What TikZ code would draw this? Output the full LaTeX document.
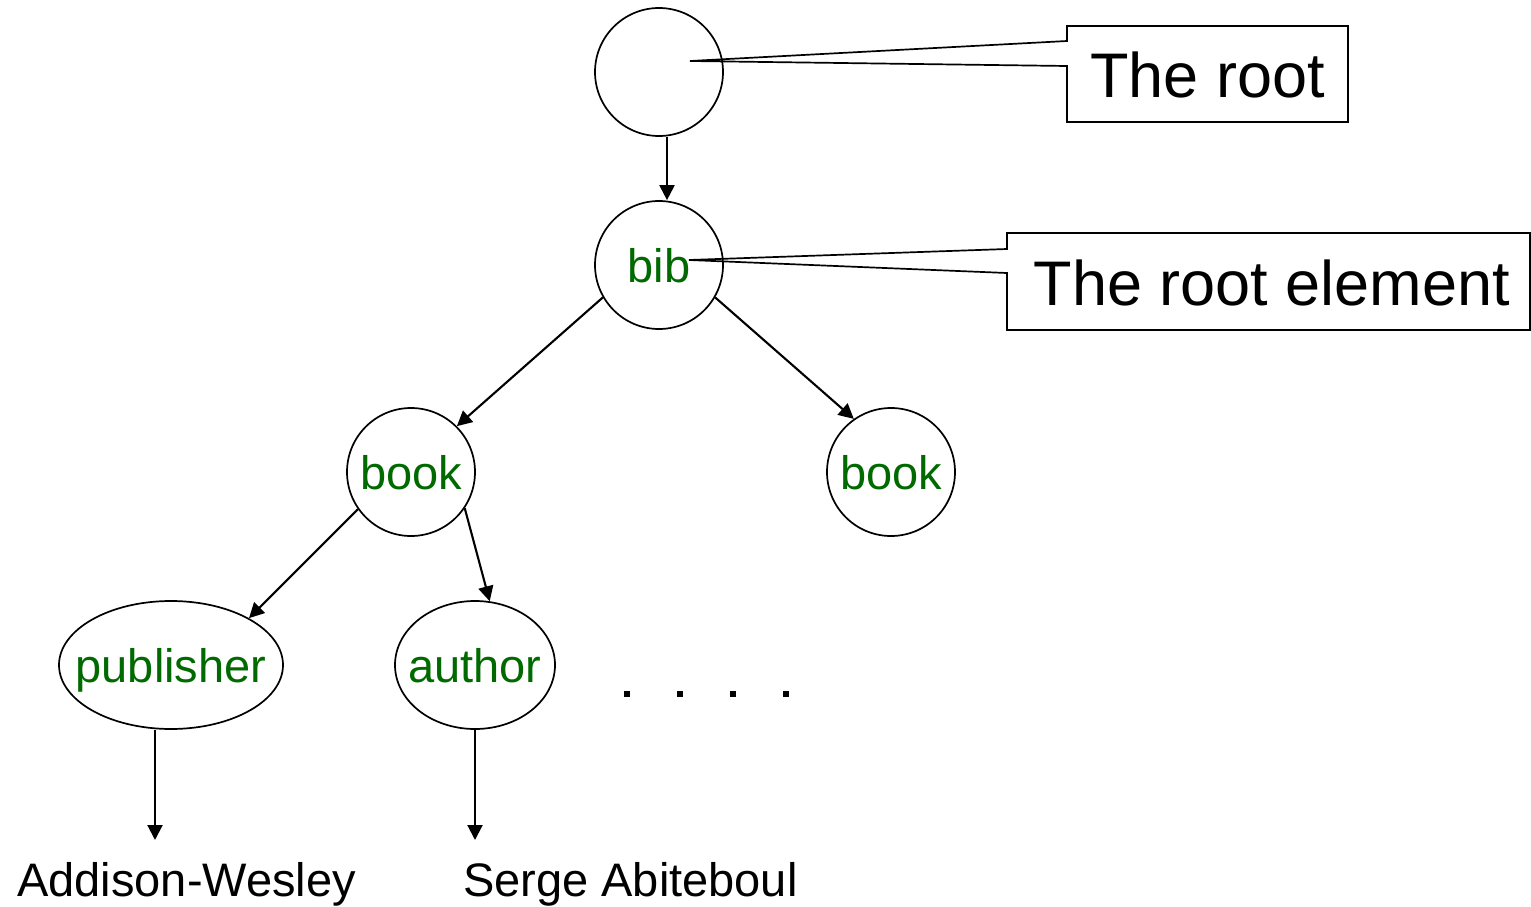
\documentclass[tikz,border=0pt]{standalone}
\usepackage{fontspec}
\setmainfont{Liberation Sans}
\usetikzlibrary{arrows.meta,shapes.geometric}
\definecolor{tagGreen}{RGB}{0,106,0}
\begin{document}
\begin{tikzpicture}[x=1pt,y=-1pt,
  elem/.style={circle,draw,line width=1.7pt,minimum size=128pt,inner sep=0pt,
    text=tagGreen,font=\fontsize{47pt}{56pt}\selectfont,text depth=0pt},
  arr/.style={-{Triangle[length=15pt,width=15pt]},line width=2.1pt},
  leaf/.style={font=\fontsize{47pt}{56pt}\selectfont,inner sep=0pt},
  note/.style={font=\fontsize{63pt}{72pt}\selectfont,inner sep=0pt,anchor=base},
  callout/.style={draw,line width=1.7pt}]
\useasboundingbox (0,0) rectangle (1531,907);

% tree nodes
\node[elem] (root) at (659,72) {};
\node[elem] (bib) at (659,265) {bib};
\node[elem] (book1) at (411,472) {book};
\node[elem] (book2) at (891,472) {book};
\node[elem,ellipse,minimum width=224pt,minimum height=128pt] (pub) at (171,665) {\makebox[0pt]{publisher}};
\node[elem,ellipse,minimum width=160pt,minimum height=128pt] (auth) at (475,665) {\makebox[0pt]{author}};

% leaf texts
\node[leaf,anchor=base west] (aw) at (17,896) {Addison-Wesley};
\node[leaf,anchor=base west] (sa) at (463,896) {Serge Abiteboul};

% connectors
\draw[arr] ([xshift=8pt]root.south) -- ([xshift=8pt]root.south |- bib.north);
\draw[arr] (bib.210) -- (book1.45);
\draw[arr] (bib.-30) -- (book2.125);
\draw[arr] (book1.215) -- (pub.31);
\draw[arr] (book1.-34) -- (auth.77);
\coordinate (awtip) at (155,840);
\draw[arr] (pub.south -| awtip) -- (awtip);
\coordinate (satip) at (475,840);
\draw[arr] (auth.south) -- (satip);

% dots
\foreach \x in {627,680,733,786} \fill (\x-3,691) rectangle (\x+3,697);

% callouts
\node[note] (rootnote) at (1207.5,97) {The root};
\draw[callout] (1067,41) -- (1067,26) -- (1348,26) -- (1348,122) -- (1067,122) -- (1067,66) -- (690,61) -- cycle;
\node[note] (bibnote) at (1272,305) {The root element};
\draw[callout] (1007,249) -- (1007,233) -- (1530,233) -- (1530,330) -- (1007,330) -- (1007,273) -- (689,260) -- cycle;
\end{tikzpicture}
\end{document}
